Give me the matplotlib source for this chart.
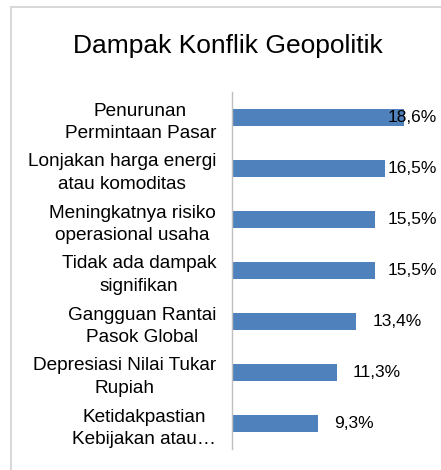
import matplotlib.pyplot as plt
from matplotlib.patches import Rectangle

plt.rcParams['font.family'] = ['Liberation Sans', 'DejaVu Sans']

categories = [
    "Penurunan\nPermintaan Pasar",
    "Lonjakan harga energi\natau komoditas",
    "Meningkatnya risiko\noperasional usaha",
    "Tidak ada dampak\nsignifikan",
    "Gangguan Rantai\nPasok Global",
    "Depresiasi Nilai Tukar\nRupiah",
    "Ketidakpastian\nKebijakan atau\u2026",
]
values = [18.6, 16.5, 15.5, 15.5, 13.4, 11.3, 9.3]
value_labels = ["18,6%", "16,5%", "15,5%", "15,5%", "13,4%", "11,3%", "9,3%"]

fig = plt.figure(figsize=(4.41, 4.70), dpi=100)

# chart border (only top/left visible in the crop)
fig.patches.append(Rectangle((10.5 / 441, -0.1), 1.2, 1 - 7.5 / 470 + 0.1,
                             transform=fig.transFigure, fill=False,
                             edgecolor="#D9D9D9", linewidth=1.5))

ax = fig.add_axes([232 / 441, 21 / 470, 185 / 441, 357 / 470])
ypos = list(range(len(values)))
ax.barh(ypos, values, height=0.35, color="#4F81BD")
ax.set_xlim(0, 20)
ax.set_ylim(len(values) - 0.5, -0.5)

ax.set_yticks(ypos)
ax.set_yticklabels(categories, fontsize=13.7, linespacing=1.4)
for lab in ax.get_yticklabels():
    lab.set_multialignment("center")
ax.tick_params(axis="y", length=0, pad=11.5)
ax.set_xticks([])
for side in ["top", "right", "bottom"]:
    ax.spines[side].set_visible(False)
ax.spines["left"].set_color("#BFBFBF")
ax.spines["left"].set_linewidth(1)

# value labels, pushed back inside the chart when they would run off
texts = []
for y, v, txt in zip(ypos, values, value_labels):
    texts.append(ax.text(v + 1.75, y, txt, ha="left", va="center", fontsize=12.5, clip_on=False))

fig.text(228 / 441, 1 - 46 / 470, "Dampak Konflik Geopolitik", ha="center", va="center",
         fontsize=19)

fig.canvas.draw()
r = fig.canvas.get_renderer()
limit = 437
for t in texts:
    bb = t.get_window_extent(r)
    if bb.x1 > limit:
        t.set_x(ax.transData.inverted().transform((limit - bb.width, 0))[0])

fig.savefig("out.png", dpi=100)
